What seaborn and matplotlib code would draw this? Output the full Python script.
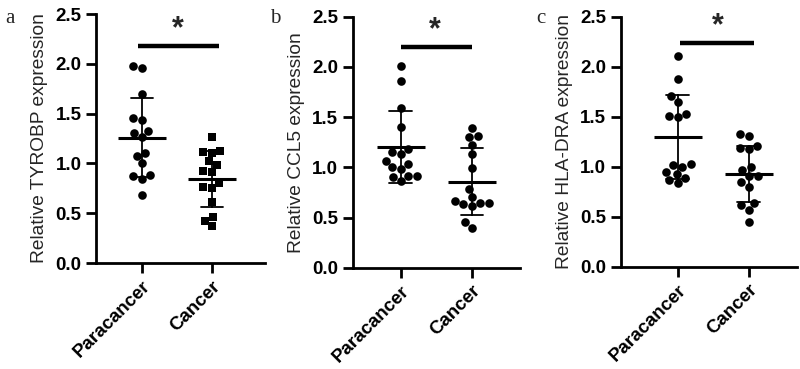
import numpy as np
import pandas as pd
import matplotlib.pyplot as plt
import seaborn as sns

groups = ['Paracancer', 'Cancer']
genes = ['TYROBP', 'CCL5', 'HLA-DRA']
letters = ['a', 'b', 'c']
cancer_markers = ['s', 'o', 'o']

tyrobp_para = [1.96, 1.46, 1.31, 1.11, 0.87, 1.98, 1.70, 1.44, 1.27, 1.00, 0.88, 0.68, 1.33, 1.07, 0.84]
tyrobp_canc = [1.11, 0.98, 0.76, 0.37, 1.27, 1.12, 0.91, 0.80, 0.61, 0.46, 1.13, 1.02, 0.92, 0.75, 0.42]
ccl5_para = [2.01, 1.86, 1.59, 1.40, 1.18, 1.13, 1.15, 1.06, 1.03, 0.98, 1.00, 0.91, 0.90, 0.91, 0.86]
ccl5_canc = [1.39, 1.31, 1.30, 1.22, 1.13, 0.99, 0.78, 0.70, 0.64, 0.63, 0.61, 0.66, 0.64, 0.46, 0.40]
hla_para = [2.11, 1.88, 1.71, 1.65, 1.50, 1.51, 1.53, 1.02, 1.03, 1.00, 0.93, 0.95, 0.87, 0.89, 0.84]
hla_canc = [1.31, 1.33, 1.19, 1.21, 1.18, 1.00, 0.97, 0.91, 0.91, 0.85, 0.80, 0.64, 0.62, 0.57, 0.45]

data = [(tyrobp_para, tyrobp_canc), (ccl5_para, ccl5_canc), (hla_para, hla_canc)]

# significance bars: (x start, x end, y), star (x, y)
sig_bars = [(-0.06, 1.10, 2.18), (0.0, 1.0, 2.20), (0.03, 1.07, 2.24)]
stars = [(0.52, 2.35), (0.48, 2.37), (0.56, 2.41)]

sns.set_style('ticks')
plt.rcParams['font.family'] = ['Liberation Sans', 'DejaVu Sans']

fig = plt.figure(figsize=(8, 3.69), dpi=100)
positions = [[0.12, 0.287, 0.211, 0.675],
             [0.441, 0.2745, 0.209, 0.680],
             [0.776, 0.277, 0.22, 0.6775]]
xlims = [(-0.657, 1.757), (-0.676, 1.676), (-0.80, 1.68)]
letter_x = [0.006, 0.338, 0.67]

for i, (para, canc) in enumerate(data):
    ax = fig.add_axes(positions[i])
    df = pd.DataFrame({'group': ['Paracancer'] * len(para) + ['Cancer'] * len(canc),
                       'value': para + canc})

    sns.swarmplot(data=df[df.group == 'Paracancer'], x='group', y='value', order=groups,
                  color='black', size=6.2, marker='o', linewidth=0, ax=ax)
    sns.swarmplot(data=df[df.group == 'Cancer'], x='group', y='value', order=groups,
                  color='black', size=6.0 if cancer_markers[i] == 's' else 6.2,
                  marker=cancer_markers[i], linewidth=0, ax=ax)
    sns.pointplot(data=df, x='group', y='value', order=groups, errorbar='sd',
                  capsize=0.32, color='black', markers='_', markersize=34,
                  markeredgewidth=2.2, linestyle='none',
                  err_kws={'linewidth': 1.3}, ax=ax)

    x0, x1, yb = sig_bars[i]
    ax.plot([x0, x1], [yb, yb], color='black', lw=3.2, solid_capstyle='butt')
    ax.text(stars[i][0], stars[i][1], '*', ha='center', va='center',
            fontsize=22, fontweight='bold')

    ax.set_xlim(*xlims[i])
    ax.set_ylim(0, 2.5)
    ax.set_yticks([0, 0.5, 1.0, 1.5, 2.0, 2.5])
    ax.set_yticklabels(['0.0', '0.5', '1.0', '1.5', '2.0', '2.5'])
    ax.set_xlabel('')
    ax.set_ylabel(f'Relative {genes[i]} expression', fontsize=13.8, labelpad=5)
    ax.tick_params(axis='both', width=2, length=7, labelsize=13.5, colors='black')
    for lab in ax.get_xticklabels():
        lab.set_rotation(45)
        lab.set_ha('right')
        lab.set_rotation_mode('anchor')
        lab.set_fontweight('bold')
    for lab in ax.get_yticklabels():
        lab.set_fontweight('bold')
    sns.despine(ax=ax)
    for side in ['left', 'bottom']:
        ax.spines[side].set_linewidth(2)
        ax.spines[side].set_color('black')

    fig.text(letter_x[i], 0.975, letters[i], fontsize=15, va='top',
             family=['Liberation Serif', 'DejaVu Serif'])

plt.savefig('out.png', dpi=100)
